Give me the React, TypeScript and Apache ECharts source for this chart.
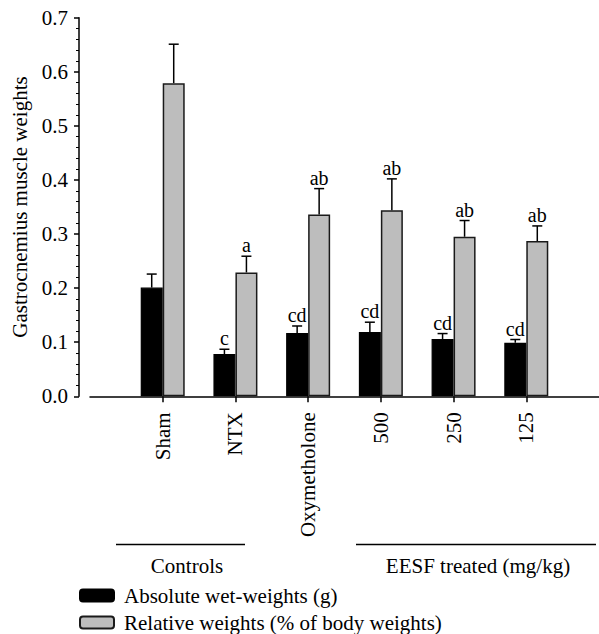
import React, { useEffect, useRef } from "react";
import * as echarts from "echarts";

const categories = ["Sham", "NTX", "Oxymetholone", "500", "250", "125"];
const absMean = [0.201, 0.078, 0.117, 0.119, 0.106, 0.099];
const absSem = [0.025, 0.009, 0.013, 0.018, 0.01, 0.006];
const relMean = [0.579, 0.229, 0.336, 0.344, 0.295, 0.287];
const relSem = [0.072, 0.03, 0.048, 0.058, 0.03, 0.028];
const absLetters = ["", "c", "cd", "cd", "cd", "cd"];
const relLetters = ["", "a", "ab", "ab", "ab", "ab"];
const yTicks = [0, 0.1, 0.2, 0.3, 0.4, 0.5, 0.6, 0.7];
const seriesNames = ["Absolute wet-weights (g)", "Relative weights (% of body weights)"];

const FONT = "'Liberation Serif', 'DejaVu Serif', serif";
const GRAY = "#bdbdbd";
const FS = 21;

export default function App() {
  const ref = useRef<HTMLDivElement>(null);
  useEffect(() => {
    if (!ref.current) return;
    const chart = echarts.init(ref.current, null, { renderer: "svg" });
    const xCats = ["", ...categories, ""];
    const pad = (arr: number[]) => ["-", ...arr, "-"];

    const errSeries = (means: number[], sems: number[], letters: string[], off: number, name: string) => ({
      type: "custom",
      name,
      z: 5,
      silent: true,
      data: means.map((m, i) => [i + 1, m, m + sems[i]]),
      renderItem: (params: any, api: any) => {
        const idx = api.value(0);
        const base = api.coord([idx, api.value(1)]);
        const top = api.coord([idx, api.value(2)]);
        const x = base[0] + off;
        return {
          type: "group",
          children: [
            { type: "line", shape: { x1: x, y1: base[1], x2: x, y2: top[1] }, style: { stroke: "#000", lineWidth: 1.5 } },
            { type: "line", shape: { x1: x - 5, y1: top[1], x2: x + 5, y2: top[1] }, style: { stroke: "#000", lineWidth: 1.5 } },
            {
              type: "text",
              x,
              y: top[1] - 1,
              style: {
                text: letters[params.dataIndex],
                align: "center",
                verticalAlign: "bottom",
                fontSize: 20,
                fontFamily: FONT,
                fill: "#000",
              },
            },
          ],
        };
      },
    });

    const legendBase = {
      orient: "vertical",
      left: 79,
      itemWidth: 34,
      itemHeight: 12,
      selectedMode: false,
      padding: 0,
      textStyle: { fontSize: FS, fontFamily: FONT, color: "#000", padding: [0, 0, 0, 5] },
    };

    chart.setOption({
      animation: false,
      textStyle: { fontFamily: FONT, color: "#000" },
      grid: { left: 90, right: -5, top: 17.7, bottom: 237.7, containLabel: false },
      legend: [
        { ...legendBase, top: 585, data: [seriesNames[0]] },
        { ...legendBase, top: 612, data: [seriesNames[1]] },
      ],
      xAxis: {
        type: "category",
        data: xCats,
        boundaryGap: false,
        axisLine: { lineStyle: { color: "#000", width: 1.5 } },
        axisTick: {
          length: 6,
          lineStyle: { color: "#000", width: 1.5 },
          interval: (i: number) => i > 0 && i < xCats.length - 1,
        },
        axisLabel: { rotate: 90, interval: 0, margin: 16, fontSize: FS, fontFamily: FONT, color: "#000" },
        splitLine: { show: false },
      },
      yAxis: {
        type: "value",
        min: 0,
        max: 0.7,
        interval: 0.1,
        offset: 11,
        name: "Gastrocnemius muscle weights",
        nameLocation: "middle",
        nameGap: 46,
        nameTextStyle: { fontSize: FS, fontFamily: FONT, color: "#000" },
        axisLine: { show: true, lineStyle: { color: "#000", width: 1.5 } },
        axisTick: { show: true, length: 5, lineStyle: { color: "#000", width: 1.5 } },
        minorTick: { show: true, splitNumber: 5, length: 3, lineStyle: { color: "#000", width: 1 } },
        axisLabel: {
          fontSize: FS,
          fontFamily: FONT,
          color: "#000",
          margin: 11,
          formatter: (v: number) => (yTicks.some((t) => Math.abs(t - v) < 1e-9) ? v.toFixed(1) : ""),
        },
        splitLine: { show: false },
      },
      series: [
        {
          type: "bar",
          name: seriesNames[0],
          data: pad(absMean),
          barWidth: 22,
          barGap: "0%",
          itemStyle: { color: "#000", borderColor: "#000", borderWidth: 1.2 },
        },
        {
          type: "bar",
          name: seriesNames[1],
          data: pad(relMean),
          barWidth: 22,
          barGap: "0%",
          itemStyle: { color: GRAY, borderColor: "#1a1a1a", borderWidth: 1.5 },
        },
        errSeries(absMean, absSem, absLetters, -11, "absErr"),
        errSeries(relMean, relSem, relLetters, 11, "relErr"),
      ],
      graphic: [
        { type: "line", shape: { x1: 116, y1: 544.5, x2: 245, y2: 544.5 }, style: { stroke: "#000", lineWidth: 1.5 } },
        { type: "line", shape: { x1: 356, y1: 544.5, x2: 596, y2: 544.5 }, style: { stroke: "#000", lineWidth: 1.5 } },
        {
          type: "text",
          x: 187,
          y: 566,
          style: { text: "Controls", align: "center", verticalAlign: "middle", fontSize: FS, fontFamily: FONT, fill: "#000" },
        },
        {
          type: "text",
          x: 478,
          y: 566,
          style: { text: "EESF treated (mg/kg)", align: "center", verticalAlign: "middle", fontSize: FS, fontFamily: FONT, fill: "#000" },
        },
      ],
    });
    return () => chart.dispose();
  }, []);
  return <div ref={ref} style={{ position: "absolute", left: 0, top: 0, width: 599, height: 634 }} />;
}
